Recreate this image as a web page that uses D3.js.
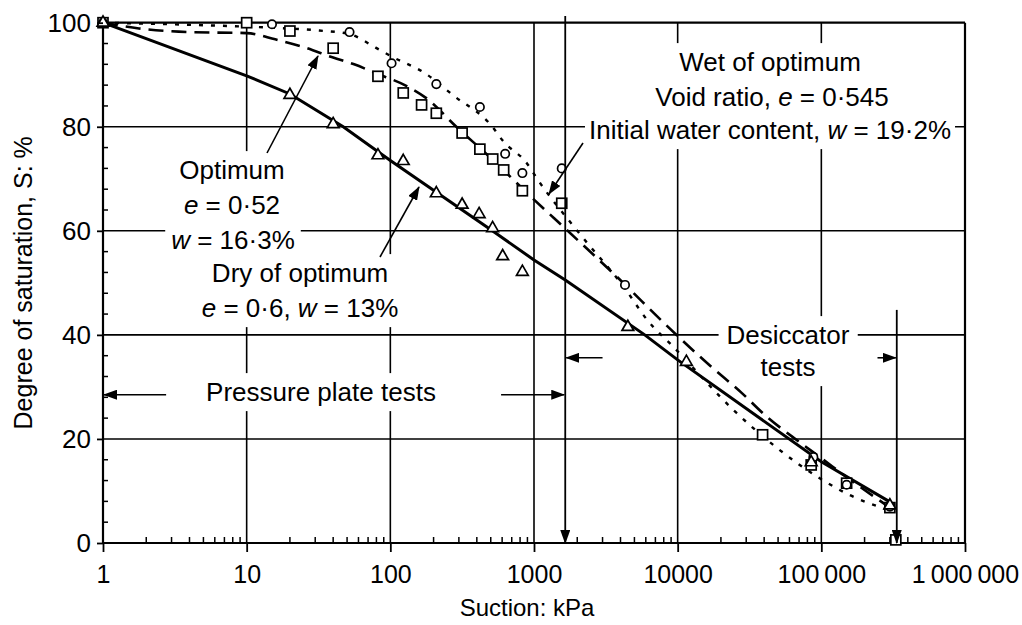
<!DOCTYPE html>
<html><head><meta charset="utf-8">
<script src="https://cdn.jsdelivr.net/npm/d3@7"></script>
<style>
body{margin:0;background:#fff}
svg{display:block}
text{font-family:"Liberation Sans",Arial,Helvetica,sans-serif;fill:#000}
</style>
</head><body>
<svg id="c" width="1022" height="625"></svg>
<script>
// ---------- data ----------
const xTicks = [1, 10, 100, 1000, 10000, 100000, 1000000];
const xTickLabels = ["1", "10", "100", "1000", "10000", "100\u2009000", "1\u2009000\u2009000"];
const yTicks = [0, 20, 40, 60, 80, 100];

// fitted curves (suction kPa, degree of saturation %)
const dryCurveSuction = [1, 10, 20, 47, 100, 513, 1000, 1660, 5900, 10000, 100000, 300000];
const dryCurveSat     = [100, 89.8, 86.3, 80, 73.5, 60, 54.4, 50.5, 40, 35.2, 15.6, 7.9];

const optCurveSuction = [1, 1.78, 4, 10, 15.8, 25, 40, 56, 79, 126, 178, 288, 500, 1000, 1700, 4000, 8300, 16600, 28000, 42000, 63000, 100000, 158000, 300000];
const optCurveSat     = [100, 98.9, 98.2, 98, 96.8, 95.3, 93.3, 92, 90.3, 88, 85.5, 80, 74, 66, 60.1, 50.5, 41.9, 34.2, 28.8, 24.2, 20.4, 16.3, 12.2, 6.8];

const wetCurveSuction = [1, 4, 15.8, 32, 52, 79, 102, 174, 275, 513, 603, 891, 1070, 2000, 4270, 6170, 9330, 25700, 49000, 102000, 158000, 282000];
const wetCurveSat     = [100, 99.6, 99, 98.5, 97.8, 95.2, 93.5, 90.3, 86, 80, 77.4, 73, 69.7, 60, 49, 42.8, 37.7, 25, 18.3, 12.1, 9.2, 6.5];

// measured points
const dryPtSuction = [1, 20, 40, 82, 123, 209, 316, 415, 515, 605, 830, 4500, 11500, 85000, 300000];
const dryPtSat     = [100, 86.1, 80.5, 74.5, 73.4, 67.2, 65, 63.2, 60.5, 55.1, 52.1, 41.5, 34.8, 15.5, 7.2];

const optPtSuction = [1, 10, 20, 40, 82, 123, 165, 209, 316, 420, 516, 615, 830, 1560, 39000, 85000, 150000, 300000, 330000];
const optPtSat     = [100, 100, 98.4, 95.1, 89.7, 86.5, 84.2, 82.6, 78.8, 75.7, 73.8, 71.7, 67.7, 65.3, 20.8, 15, 11.5, 6.8, 0.6];

const wetPtSuction = [1, 15, 52, 102, 209, 420, 630, 830, 1560, 4300, 88000, 150000, 300000];
const wetPtSat     = [100, 99.7, 98.2, 92.2, 88.2, 83.8, 74.8, 71.1, 72, 49.6, 16.5, 11.2, 7];

// test-range boundaries (kPa)
const pressurePlateLimit = 1650;
const desiccatorLimit = 335000;

// ---------- drawing ----------
const svg = d3.select("#c");
const FONT = '"Liberation Sans",Arial,Helvetica,sans-serif';
const x = d3.scaleLog().domain([1, 1e6]).range([103, 965]);
const y = d3.scaleLinear().domain([0, 100]).range([543, 22.7]);

const defs = svg.append("defs");
defs.append("marker").attr("id", "ah").attr("markerUnits", "userSpaceOnUse")
  .attr("markerWidth", 14).attr("markerHeight", 10).attr("refX", 13).attr("refY", 5)
  .attr("orient", "auto")
  .append("path").attr("d", "M0,0 L14,5 L0,10 Z").attr("fill", "#000");

const gGrid = svg.append("g");
const gKnock = svg.append("g");
const gMarks = svg.append("g");
const gAnn = svg.append("g");

// grid
gGrid.selectAll("line.v").data(xTicks).join("line").attr("class", "v")
  .attr("x1", d => x(d)).attr("x2", d => x(d)).attr("y1", y(100)).attr("y2", y(0))
  .attr("stroke", "#000").attr("stroke-width", d => (d === 1 || d === 1e6) ? 2.2 : 1.6);
gGrid.selectAll("line.h").data(yTicks).join("line").attr("class", "h")
  .attr("x1", x(1)).attr("x2", x(1e6)).attr("y1", d => y(d)).attr("y2", d => y(d))
  .attr("stroke", "#000").attr("stroke-width", d => (d === 0 || d === 100) ? 2.2 : 1.6);

// minor ticks
const minorX = [];
for (let p = 0; p < 6; p++) for (let k = 2; k <= 9; k++) minorX.push(k * Math.pow(10, p));
gGrid.selectAll("line.mx").data(minorX).join("line").attr("class", "mx")
  .attr("x1", d => x(d)).attr("x2", d => x(d)).attr("y1", y(0)).attr("y2", y(0) - 6)
  .attr("stroke", "#000").attr("stroke-width", 1.5);
const minorY = d3.range(4, 100, 4).filter(v => v % 20 !== 0);
gGrid.selectAll("line.my").data(minorY).join("line").attr("class", "my")
  .attr("x1", x(1)).attr("x2", x(1) + 5).attr("y1", d => y(d)).attr("y2", d => y(d))
  .attr("stroke", "#000").attr("stroke-width", 1.5);

// axes
const xAxis = d3.axisBottom(x).tickValues(xTicks).tickFormat((d, i) => xTickLabels[i]).tickSize(9).tickPadding(13);
svg.append("g").attr("transform", `translate(0,${y(0)})`).call(xAxis)
  .call(g => { g.select(".domain").remove();
    g.selectAll("line").attr("stroke", "#000").attr("stroke-width", 1.8);
    g.selectAll("text").attr("font-size", 25).attr("font-family", FONT).attr("fill", "#000"); });
const yAxis = d3.axisLeft(y).tickValues(yTicks).tickSize(6).tickPadding(6);
svg.append("g").attr("transform", `translate(${x(1)},0)`).call(yAxis)
  .call(g => { g.select(".domain").remove();
    g.selectAll("line").attr("stroke", "#000").attr("stroke-width", 1.8);
    g.selectAll("text").attr("font-size", 26).attr("font-family", FONT).attr("fill", "#000"); });

// axis titles
svg.append("text").attr("x", 527).attr("y", 616).attr("text-anchor", "middle")
  .attr("font-size", 24).text("Suction: kPa");
svg.append("text").attr("transform", `translate(32,${(y(0) + y(100)) / 2}) rotate(-90)`)
  .attr("text-anchor", "middle").attr("font-size", 25).text("Degree of saturation, S: %");

// text labels with white knock-out behind them
function label(cx, cy, parts, padX = 6, padY = 4, size = 26) {
  const t = gAnn.append("text").attr("x", cx).attr("y", cy).attr("dy", "0.35em")
    .attr("text-anchor", "middle").attr("font-size", size);
  parts.forEach(p => {
    const s = t.append("tspan").text(p[0]);
    if (p[1]) s.attr("font-style", "italic");
  });
  const b = t.node().getBBox();
  gKnock.append("rect").attr("x", b.x - padX).attr("y", b.y - padY)
    .attr("width", b.width + 2 * padX).attr("height", b.height + 2 * padY).attr("fill", "#fff");
}
label(770, 62, [["Wet of optimum"]]);
label(772, 97, [["Void ratio, "], ["e", 1], [" = 0\u00b7545"]]);
label(770, 130, [["Initial water content, "], ["w", 1], [" = 19\u00b72%"]], 4);
label(232, 170, [["Optimum"]]);
label(232, 205, [["e", 1], [" = 0\u00b752"]]);
label(233, 240, [["w", 1], [" = 16\u00b73%"]]);
label(300, 273, [["Dry of optimum"]]);
label(300, 308, [["e", 1], [" = 0\u00b76, "], ["w", 1], [" = 13%"]]);
label(321, 392, [["Pressure plate tests"]], 10);
label(788, 335, [["Desiccator"]], 8);
label(788, 367, [["tests"]], 8);

// curves
const line = d3.line().x(d => x(d[0])).y(d => y(d[1])).curve(d3.curveMonotoneX);
const lineStraight = d3.line().x(d => x(d[0])).y(d => y(d[1]));
const zip = (a, b) => a.map((v, i) => [v, b[i]]);
gMarks.append("path").attr("d", line(zip(wetCurveSuction, wetCurveSat)))
  .attr("fill", "none").attr("stroke", "#000").attr("stroke-width", 2.4).attr("stroke-dasharray", "4 8");
gMarks.append("path").attr("d", line(zip(optCurveSuction, optCurveSat)))
  .attr("fill", "none").attr("stroke", "#000").attr("stroke-width", 2.6).attr("stroke-dasharray", "15 8");
gMarks.append("path").attr("d", lineStraight(zip(dryCurveSuction, dryCurveSat)))
  .attr("fill", "none").attr("stroke", "#000").attr("stroke-width", 3);

// points
gMarks.selectAll("rect.sq").data(zip(optPtSuction, optPtSat)).join("rect").attr("class", "sq")
  .attr("x", d => x(d[0]) - 5).attr("y", d => y(d[1]) - 5).attr("width", 10).attr("height", 10)
  .attr("fill", "#fff").attr("stroke", "#000").attr("stroke-width", 1.7);
gMarks.selectAll("circle.ci").data(zip(wetPtSuction, wetPtSat)).join("circle").attr("class", "ci")
  .attr("cx", d => x(d[0])).attr("cy", d => y(d[1])).attr("r", 4.2)
  .attr("fill", "#fff").attr("stroke", "#000").attr("stroke-width", 1.7);
const tri = d3.symbol().type(d3.symbolTriangle).size(60);
gMarks.selectAll("path.tr").data(zip(dryPtSuction, dryPtSat)).join("path").attr("class", "tr")
  .attr("transform", d => `translate(${x(d[0])},${y(d[1])})`).attr("d", tri)
  .attr("fill", "#fff").attr("stroke", "#000").attr("stroke-width", 1.7);

// annotation arrows
function arrow(x1, y1, x2, y2, w = 1.6) {
  gAnn.append("line").attr("x1", x1).attr("y1", y1).attr("x2", x2).attr("y2", y2)
    .attr("stroke", "#000").attr("stroke-width", w).attr("marker-end", "url(#ah)");
}
arrow(267, 153, 318, 56);
arrow(380, 257, 419, 187);
arrow(583, 143, 549, 194);

// test ranges
arrow(x(2.75), y(28.5), x(1) + 1, y(28.5));
arrow(x(590), y(28.5), x(pressurePlateLimit) - 1, y(28.5));
arrow(x(pressurePlateLimit), y(101.3), x(pressurePlateLimit), y(0), 1.8);
arrow(x(3000), y(35.6), x(pressurePlateLimit) + 1, y(35.6));
arrow(x(246000), y(35.6), x(desiccatorLimit) - 1, y(35.6));
arrow(x(desiccatorLimit), y(44.8), x(desiccatorLimit), y(0), 1.8);
</script>
</body></html>
